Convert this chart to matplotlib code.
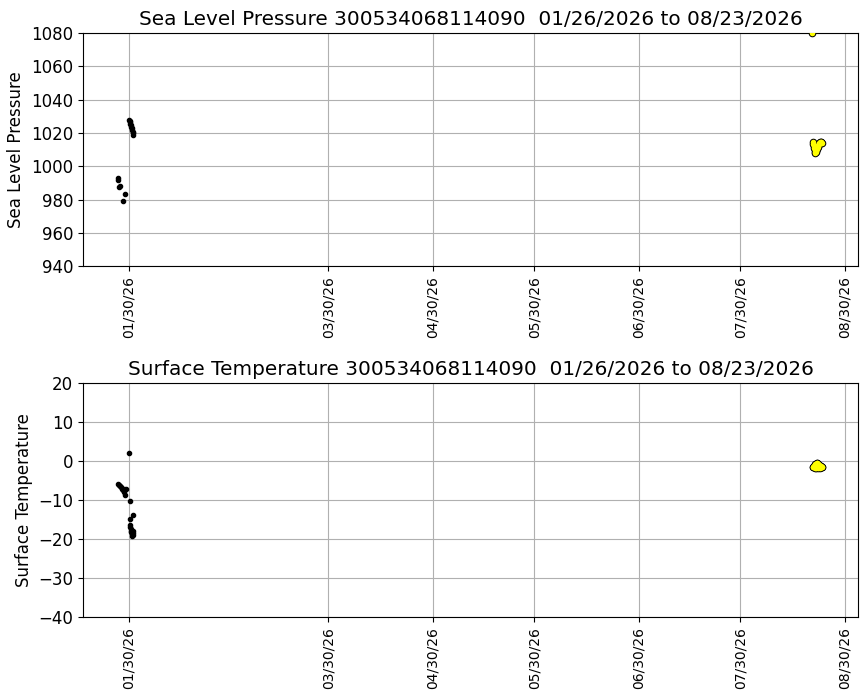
import matplotlib
matplotlib.use('Agg')
import matplotlib.pyplot as plt
import matplotlib.dates as mdates
import pandas as pd

plt.rcParams['font.size'] = 12

imei = '300534068114090'
date_range = '01/26/2026 to 08/23/2026'

# sea level pressure, early (black) points
slp_time = ['2026-01-26 19:00', '2026-01-26 20:00', '2026-01-27 03:00', '2026-01-27 05:00',
            '2026-01-28 05:00', '2026-01-28 17:00',
            '2026-01-30 00:00', '2026-01-30 03:00', '2026-01-30 06:00', '2026-01-30 09:00',
            '2026-01-30 12:00', '2026-01-30 15:00', '2026-01-30 18:00', '2026-01-30 21:00',
            '2026-01-31 00:00', '2026-01-31 03:00', '2026-01-31 06:00']
slp_val = [993.3, 991.7, 987.6, 988.2, 979.2, 983.2,
           1028.0, 1027.3, 1026.5, 1025.5, 1024.6, 1023.7, 1022.8, 1021.8,
           1020.8, 1019.8, 1019.0]

# sea level pressure, late (yellow) points
slp_time2 = ['2026-08-20 05:00',
             '2026-08-20 12:00', '2026-08-20 15:00', '2026-08-20 18:00', '2026-08-20 21:00',
             '2026-08-21 00:00', '2026-08-21 03:00', '2026-08-21 06:00', '2026-08-21 09:00',
             '2026-08-21 12:00', '2026-08-21 15:00', '2026-08-21 18:00', '2026-08-21 21:00',
             '2026-08-22 00:00', '2026-08-22 03:00', '2026-08-22 06:00', '2026-08-22 09:00',
             '2026-08-22 12:00', '2026-08-22 15:00', '2026-08-22 18:00', '2026-08-22 21:00',
             '2026-08-23 00:00', '2026-08-23 03:00']
slp_val2 = [1080.0,
            1014.8, 1013.6, 1012.3, 1011.0,
            1009.8, 1008.7, 1008.0, 1008.6,
            1009.4, 1010.2, 1011.0, 1011.8,
            1012.5, 1013.1, 1013.7, 1014.3,
            1014.8, 1014.3, 1013.8, 1014.5,
            1014.9, 1014.2]

# surface temperature, early (black) points
sst_time = ['2026-01-26 14:00', '2026-01-26 21:00', '2026-01-27 04:00', '2026-01-27 11:00',
            '2026-01-27 18:00', '2026-01-28 01:00', '2026-01-28 09:00', '2026-01-28 14:00',
            '2026-01-28 18:00', '2026-01-28 23:00',
            '2026-01-30 01:00', '2026-01-30 03:00', '2026-01-30 07:00', '2026-01-31 02:00',
            '2026-01-30 05:00', '2026-01-30 09:00', '2026-01-30 12:00', '2026-01-30 15:00',
            '2026-01-30 18:00', '2026-01-30 21:00', '2026-01-31 00:00', '2026-01-31 04:00',
            '2026-01-31 06:00', '2026-01-30 10:00']
sst_val = [-5.8, -6.1, -6.4, -6.7,
           -7.0, -7.4, -7.1, -7.9,
           -8.6, -7.0,
           2.1, -10.3, -14.8, -13.8,
           -16.4, -16.9, -17.5, -18.2,
           -18.7, -19.1, -18.9, -18.4,
           -17.8, -18.0]

# surface temperature, late (yellow) points
sst_time2 = ['2026-08-20 10:00', '2026-08-20 14:00', '2026-08-20 18:00', '2026-08-20 22:00',
             '2026-08-21 02:00', '2026-08-21 06:00', '2026-08-21 10:00', '2026-08-21 14:00',
             '2026-08-21 18:00', '2026-08-21 22:00', '2026-08-22 02:00', '2026-08-22 06:00',
             '2026-08-22 10:00', '2026-08-22 14:00', '2026-08-22 18:00', '2026-08-22 22:00',
             '2026-08-23 02:00', '2026-08-23 06:00',
             '2026-08-21 00:00', '2026-08-21 12:00', '2026-08-22 00:00', '2026-08-22 12:00']
sst_val2 = [-1.4, -1.5, -1.3, -1.1,
            -0.9, -0.8, -0.6, -0.4,
            -0.5, -0.7, -0.8, -0.9,
            -1.0, -1.1, -1.3, -1.5,
            -1.4, -1.5,
            -1.6, -1.6, -1.6, -1.6]

x_min = '2026-01-16 08:00'
x_max = '2026-09-02 20:00'


def plot_panel(ax, t1, v1, t2, v2, name, ylim, yticks):
    ax.scatter(pd.to_datetime(t1), v1, s=9, color='black', zorder=3)
    # black underlay then yellow on top, so only the outer outline shows
    t2 = pd.to_datetime(t2)
    ax.scatter(t2, v2, s=30, color='black', linewidth=0, zorder=3)
    ax.scatter(t2, v2, s=16, color='yellow', linewidth=0, zorder=4)
    ax.set_title('%s %s  %s' % (name, imei, date_range))
    ax.set_ylabel(name)
    ax.set_ylim(ylim)
    ax.set_yticks(yticks)
    ax.set_xlim(pd.Timestamp(x_min), pd.Timestamp(x_max))
    ax.xaxis.set_major_locator(mdates.DayLocator(bymonthday=30))
    ax.xaxis.set_major_formatter(mdates.DateFormatter('%m/%d/%y'))
    ax.tick_params(axis='x', labelrotation=90, labelsize=10)
    ax.grid(True)
    ax.set_axisbelow(True)


fig, (ax1, ax2) = plt.subplots(2, 1, figsize=(8.67, 7.0), dpi=100)
fig.subplots_adjust(left=0.0957, right=0.9896, top=0.9529, bottom=0.1186, hspace=0.501)

plot_panel(ax1, slp_time, slp_val, slp_time2, slp_val2, 'Sea Level Pressure',
           (940, 1080), range(940, 1081, 20))
plot_panel(ax2, sst_time, sst_val, sst_time2, sst_val2, 'Surface Temperature',
           (-40, 20), range(-40, 21, 10))

fig.savefig('out.png')
